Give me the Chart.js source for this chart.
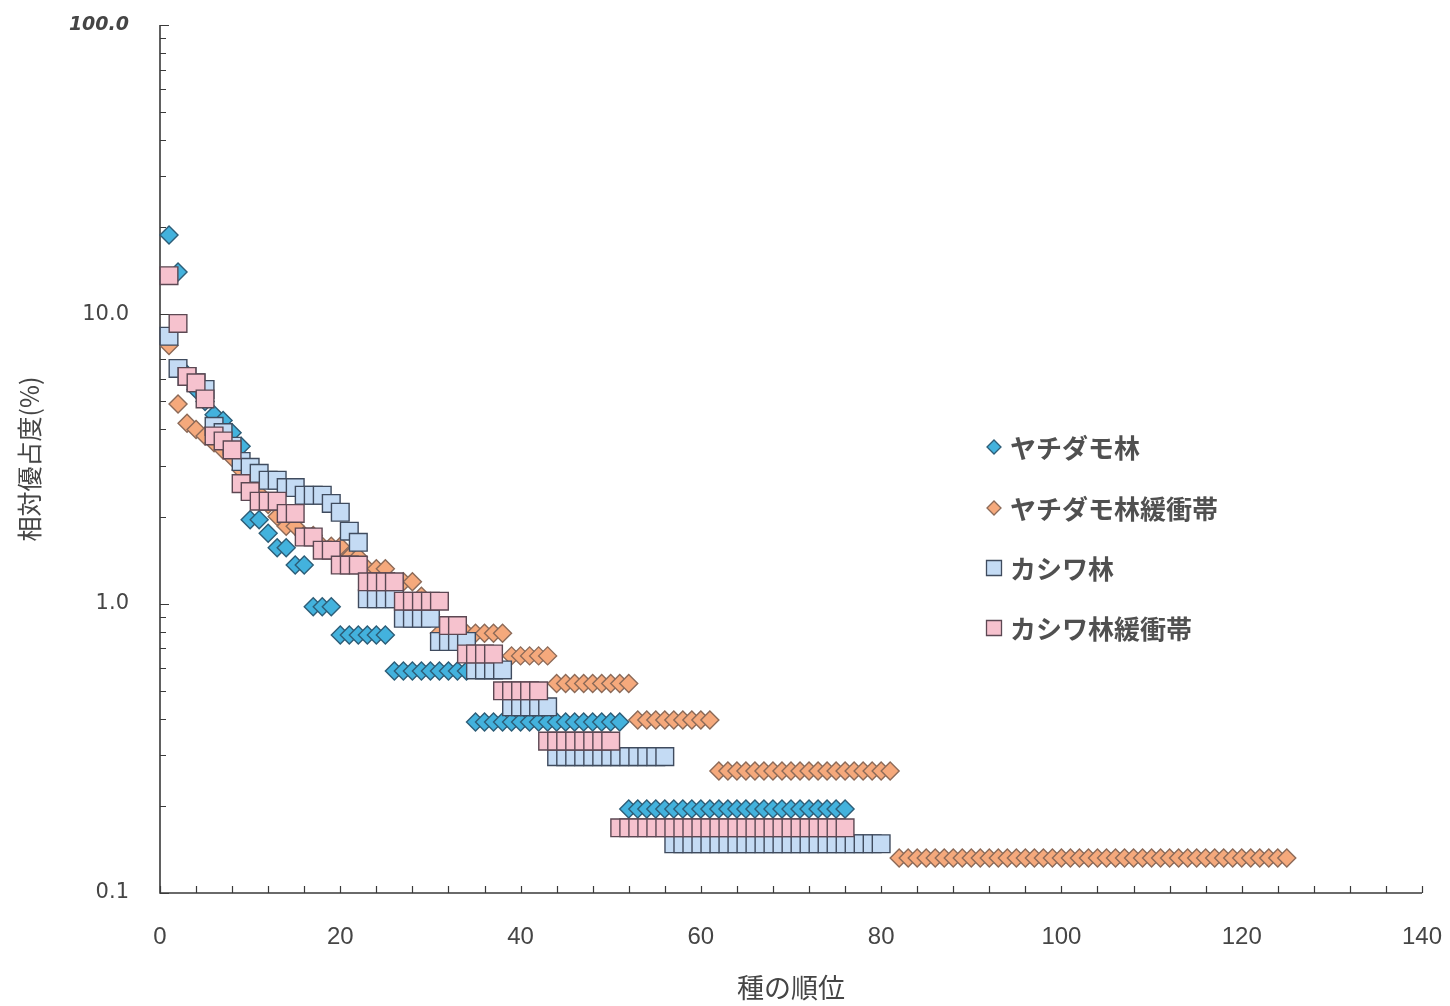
<!DOCTYPE html>
<html lang="ja">
<head>
<meta charset="utf-8">
<title>種の順位と相対優占度</title>
<script src="https://cdn.jsdelivr.net/npm/chart.js@4.4.1/dist/chart.umd.min.js"></script>
<style>
  html, body { margin: 0; padding: 0; background: #ffffff; }
  #wrap { width: 1450px; height: 1006px; }
</style>
</head>
<body>
<div id="wrap"><canvas id="c" width="1450" height="1006"></canvas></div>
<script>
// Relative dominance (%) of each species, listed by rank (rank 1 first)
const seriesNames = ['ヤチダモ林', 'ヤチダモ林緩衝帯', 'カシワ林', 'カシワ林緩衝帯'];

const yachidamo = [
  18.8, 14.0, 6.2, 5.5, 5.0, 4.5, 4.3, 3.9, 3.5, 1.95,
  1.95, 1.75, 1.56, 1.56, 1.36, 1.36, 0.975, 0.975, 0.975, 0.78,
  0.78, 0.78, 0.78, 0.78, 0.78, 0.585, 0.585, 0.585, 0.585, 0.585,
  0.585, 0.585, 0.585, 0.585, 0.39, 0.39, 0.39, 0.39, 0.39, 0.39,
  0.39, 0.39, 0.39, 0.39, 0.39, 0.39, 0.39, 0.39, 0.39, 0.39,
  0.39, 0.195, 0.195, 0.195, 0.195, 0.195, 0.195, 0.195, 0.195, 0.195,
  0.195, 0.195, 0.195, 0.195, 0.195, 0.195, 0.195, 0.195, 0.195, 0.195,
  0.195, 0.195, 0.195, 0.195, 0.195, 0.195
];

const yachidamoBuffer = [
  7.8, 4.9, 4.2, 4.0, 3.8, 3.6, 3.4, 3.2, 2.9, 2.6,
  2.4, 2.2, 2.0, 1.85, 1.85, 1.72, 1.72, 1.58, 1.58, 1.58,
  1.45, 1.45, 1.32, 1.32, 1.32, 1.19, 1.19, 1.19, 1.06, 0.92,
  0.79, 0.79, 0.79, 0.79, 0.79, 0.79, 0.79, 0.79, 0.66, 0.66,
  0.66, 0.66, 0.66, 0.53, 0.53, 0.53, 0.53, 0.53, 0.53, 0.53,
  0.53, 0.53, 0.396, 0.396, 0.396, 0.396, 0.396, 0.396, 0.396, 0.396,
  0.396, 0.264, 0.264, 0.264, 0.264, 0.264, 0.264, 0.264, 0.264, 0.264,
  0.264, 0.264, 0.264, 0.264, 0.264, 0.264, 0.264, 0.264, 0.264, 0.264,
  0.264, 0.132, 0.132, 0.132, 0.132, 0.132, 0.132, 0.132, 0.132, 0.132,
  0.132, 0.132, 0.132, 0.132, 0.132, 0.132, 0.132, 0.132, 0.132, 0.132,
  0.132, 0.132, 0.132, 0.132, 0.132, 0.132, 0.132, 0.132, 0.132, 0.132,
  0.132, 0.132, 0.132, 0.132, 0.132, 0.132, 0.132, 0.132, 0.132, 0.132,
  0.132, 0.132, 0.132, 0.132, 0.132
];

const kashiwa = [
  8.4, 6.5, 6.1, 5.8, 5.5, 4.1, 3.9, 3.5, 3.1, 2.96,
  2.82, 2.67, 2.67, 2.52, 2.52, 2.37, 2.37, 2.37, 2.22, 2.07,
  1.78, 1.63, 1.04, 1.04, 1.04, 1.04, 0.89, 0.89, 0.89, 0.89,
  0.74, 0.74, 0.74, 0.74, 0.59, 0.59, 0.59, 0.59, 0.44, 0.44,
  0.44, 0.44, 0.44, 0.296, 0.296, 0.296, 0.296, 0.296, 0.296, 0.296,
  0.296, 0.296, 0.296, 0.296, 0.296, 0.296, 0.148, 0.148, 0.148, 0.148,
  0.148, 0.148, 0.148, 0.148, 0.148, 0.148, 0.148, 0.148, 0.148, 0.148,
  0.148, 0.148, 0.148, 0.148, 0.148, 0.148, 0.148, 0.148, 0.148, 0.148
];

const kashiwaBuffer = [
  13.6, 9.3, 6.1, 5.8, 5.1, 3.8, 3.65, 3.4, 2.6, 2.44,
  2.26, 2.26, 2.26, 2.05, 2.05, 1.7, 1.7, 1.53, 1.53, 1.36,
  1.36, 1.36, 1.19, 1.19, 1.19, 1.19, 1.02, 1.02, 1.02, 1.02,
  1.02, 0.84, 0.84, 0.67, 0.67, 0.67, 0.67, 0.50, 0.50, 0.50,
  0.50, 0.50, 0.335, 0.335, 0.335, 0.335, 0.335, 0.335, 0.335, 0.335,
  0.168, 0.168, 0.168, 0.168, 0.168, 0.168, 0.168, 0.168, 0.168, 0.168,
  0.168, 0.168, 0.168, 0.168, 0.168, 0.168, 0.168, 0.168, 0.168, 0.168,
  0.168, 0.168, 0.168, 0.168, 0.168, 0.168
];

const xTickValues = [0, 20, 40, 60, 80, 100, 120, 140];
const xTickLabels = ['0', '20', '40', '60', '80', '100', '120', '140'];
const yTickValues = [0.1, 1, 10, 100];
const yTickLabels = ['0.1', '1.0', '10.0', '100.0'];
const xTitle = '種の順位';
const yTitle = '相対優占度(%)';

// Plot rectangle inside the canvas
const AREA = { left: 160, right: 1422, top: 25, bottom: 893 };
const TEXT = '#454545';
const AXIS = '#3a3a3a';

function byRank(values) {
  return values.map((v, i) => ({ x: i + 1, y: v }));
}

const styles = [
  { pointStyle: 'rectRot', radius: 9,    bg: '#43b2dd', border: '#2d5d77' },
  { pointStyle: 'rectRot', radius: 9,    bg: '#f5a97c', border: '#8c6a58' },
  { pointStyle: 'rect',    radius: 12.5, bg: '#c4dbf4', border: '#3f4b5e' },
  { pointStyle: 'rect',    radius: 12.5, bg: '#f6c2ce', border: '#5c4853' }
];
const seriesValues = [yachidamo, yachidamoBuffer, kashiwa, kashiwaBuffer];
// Later series sit on top of earlier ones
const drawOrder = [4, 3, 2, 1];

const datasets = seriesValues.map((vals, k) => ({
  label: seriesNames[k],
  data: byRank(vals),
  order: drawOrder[k],
  showLine: false,
  clip: false,
  pointStyle: styles[k].pointStyle,
  pointRadius: styles[k].radius,
  pointHoverRadius: styles[k].radius,
  pointBackgroundColor: styles[k].bg,
  pointBorderColor: styles[k].border,
  pointBorderWidth: 1.4,
  backgroundColor: styles[k].bg,
  borderColor: styles[k].border
}));

// Axis lines with tick marks pointing into the plot
const insideAxes = {
  id: 'insideAxes',
  beforeDatasetsDraw(chart) {
    const { ctx, chartArea: a, scales } = chart;
    const xs = scales.x, ys = scales.y;
    ctx.save();
    ctx.strokeStyle = AXIS;
    ctx.lineWidth = 1.6;
    ctx.beginPath();
    ctx.moveTo(a.left, a.top);
    ctx.lineTo(a.left, a.bottom);
    ctx.lineTo(a.right, a.bottom);
    ctx.stroke();

    ctx.lineWidth = 1.2;
    ctx.beginPath();
    // log minor + major ticks on y
    for (let e = -1; e <= 1; e++) {
      for (let m = 1; m <= 9; m++) {
        const v = m * Math.pow(10, e);
        const y = Math.round(ys.getPixelForValue(v)) + 0.5;
        const len = m === 1 ? 9 : 6;
        ctx.moveTo(a.left, y);
        ctx.lineTo(a.left + len, y);
      }
    }
    const yTop = Math.round(ys.getPixelForValue(100)) + 0.5;
    ctx.moveTo(a.left, yTop);
    ctx.lineTo(a.left + 9, yTop);
    // x ticks every 4 ranks
    for (let t = 0; t <= 140; t += 4) {
      const x = Math.round(xs.getPixelForValue(t)) + 0.5;
      ctx.moveTo(x, a.bottom);
      ctx.lineTo(x, a.bottom - 7);
    }
    ctx.stroke();
    ctx.restore();
  }
};

// Series key placed inside the plot, right of centre
const sideLegend = {
  id: 'sideLegend',
  afterDraw(chart) {
    const { ctx } = chart;
    const markerX = 994, textX = 1010;
    const rows = [447, 508, 568, 628];
    ctx.save();
    chart.data.datasets.forEach((ds, k) => {
      const y = rows[k];
      ctx.fillStyle = ds.pointBackgroundColor;
      ctx.strokeStyle = ds.pointBorderColor;
      ctx.lineWidth = 1.3;
      ctx.beginPath();
      if (ds.pointStyle === 'rectRot') {
        const r = 7;
        ctx.moveTo(markerX - r, y);
        ctx.lineTo(markerX, y - r);
        ctx.lineTo(markerX + r, y);
        ctx.lineTo(markerX, y + r);
        ctx.closePath();
      } else {
        const h = 7.5;
        ctx.rect(markerX - h, y - h, 2 * h, 2 * h);
      }
      ctx.fill();
      ctx.stroke();
      ctx.fillStyle = '#505050';
      ctx.font = 'bold 26px "Noto Sans CJK JP", sans-serif';
      ctx.textAlign = 'left';
      ctx.textBaseline = 'middle';
      ctx.fillText(ds.label, textX, y + 1);
    });
    ctx.restore();
  }
};

new Chart(document.getElementById('c'), {
  type: 'scatter',
  data: { datasets },
  plugins: [insideAxes, sideLegend],
  options: {
    responsive: false,
    animation: false,
    devicePixelRatio: 1,
    layout: { padding: { top: AREA.top, right: 1450 - AREA.right, left: 0, bottom: 0 } },
    plugins: { legend: { display: false }, tooltip: { enabled: false } },
    scales: {
      x: {
        type: 'linear',
        min: 0,
        max: 140,
        grid: { display: false, drawTicks: false },
        border: { display: false },
        afterBuildTicks: (s) => { s.ticks = xTickValues.map(v => ({ value: v })); },
        afterFit: (s) => {
          s.height = 1006 - AREA.bottom;
          s.paddingLeft = 0;
          s.paddingRight = 0;
        },
        ticks: {
          padding: 30,
          color: TEXT,
          font: { family: '"Liberation Sans", sans-serif', size: 24 },
          maxRotation: 0,
          callback: (v) => xTickLabels[xTickValues.indexOf(v)]
        },
        title: {
          display: true,
          text: xTitle,
          color: TEXT,
          font: { family: '"Noto Sans CJK JP", sans-serif', size: 27 },
          padding: { top: 0, bottom: 2 }
        }
      },
      y: {
        type: 'logarithmic',
        min: 0.1,
        max: 100,
        grid: { display: false, drawTicks: false },
        border: { display: false },
        afterBuildTicks: (s) => { s.ticks = yTickValues.map(v => ({ value: v })); },
        afterFit: (s) => {
          s.width = AREA.left;
          s.paddingTop = 0;
          s.paddingBottom = 0;
        },
        ticks: {
          padding: 31,
          color: TEXT,
          font: (c) => (c.tick && c.tick.value === 100)
            ? { family: '"DejaVu Sans", sans-serif', size: 19, style: 'italic', weight: 'bold' }
            : { family: '"DejaVu Sans", sans-serif', size: 21 },
          callback: (v) => yTickLabels[yTickValues.indexOf(v)]
        },
        title: {
          display: true,
          text: yTitle,
          color: TEXT,
          font: { family: '"Noto Sans CJK JP", sans-serif', size: 25 },
          padding: { top: 14, bottom: 0 }
        }
      }
    }
  }
});
</script>
</body>
</html>
